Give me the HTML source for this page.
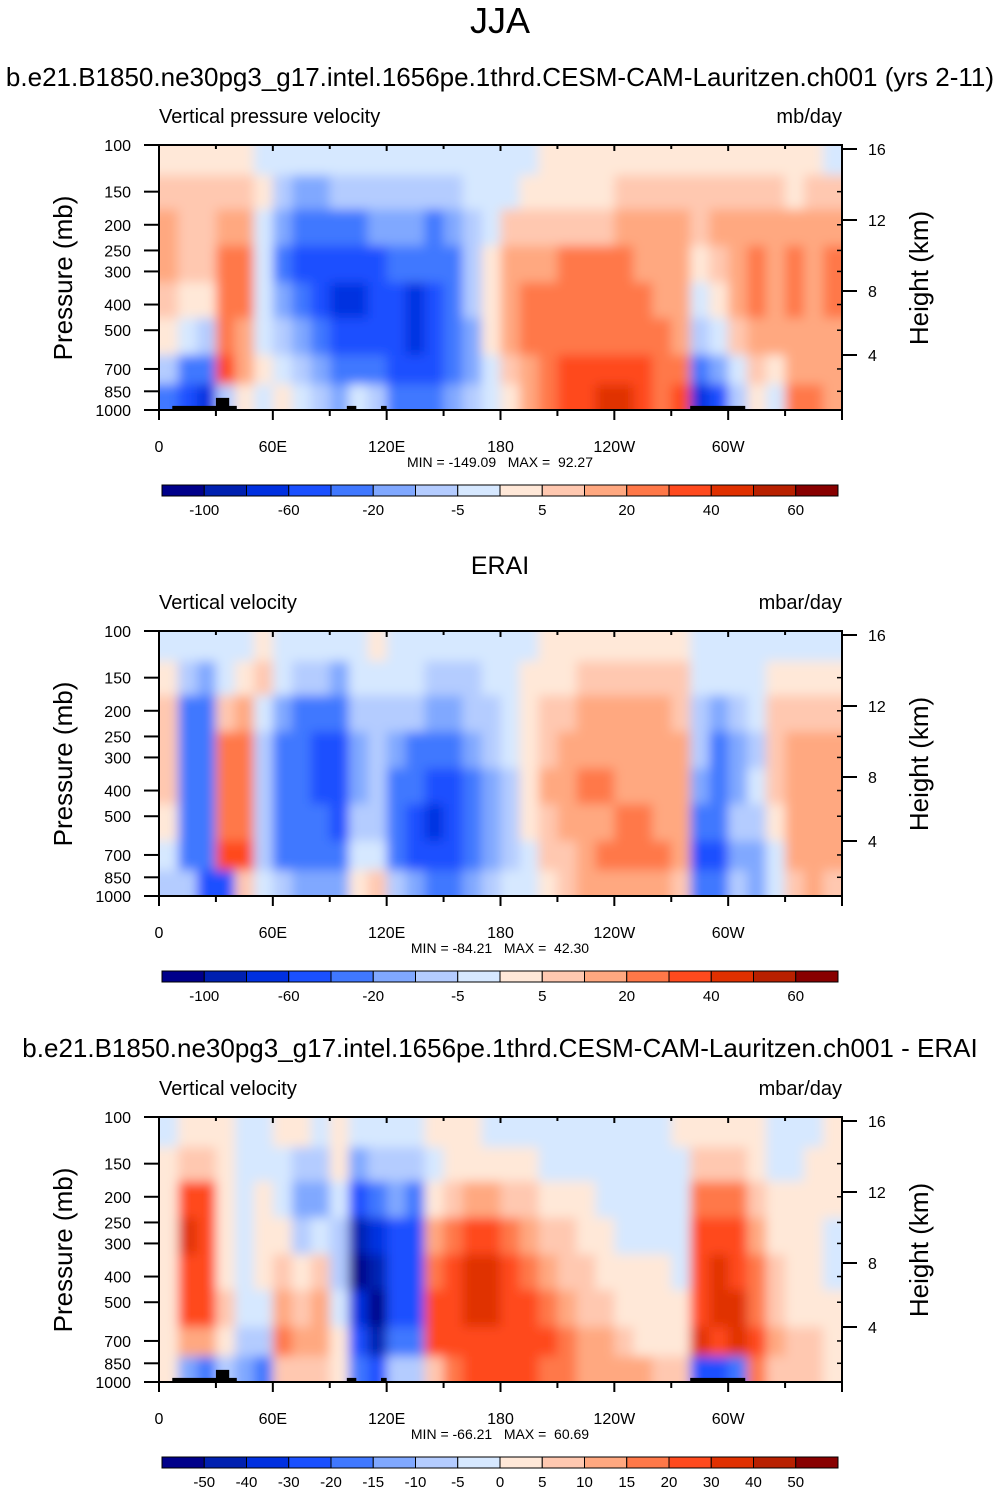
<!DOCTYPE html>
<html><head><meta charset="utf-8">
<style>
body{margin:0;background:#fff;}
svg text{font-family:"Liberation Sans",Helvetica,Arial,sans-serif;fill:#000;white-space:pre;}
</style></head>
<body>
<svg id="chart" width="1001" height="1492" viewBox="0 0 1001 1492" xmlns="http://www.w3.org/2000/svg">
<defs>
<filter id="soft" x="-5%" y="-5%" width="110%" height="110%"><feGaussianBlur stdDeviation="5.5"/></filter>
</defs>
<text x="500" y="33" text-anchor="middle" font-size="36">JJA</text>
</svg>
<script>
// ---- data ----
const lonCenters = [5,15,25,35,45,55,65,75,85,95,105,115,125,135,145,155,165,175,185,195,205,215,225,235,245,255,265,275,285,295,305,315,325,335,345,355];
const presEdges = [100,130,175,240,330,450,620,800,1000];
const colors = ["#00008a","#0020b0","#0030e0","#1a50ff","#4078ff","#80a8ff","#b4ccff","#d6e8ff","#ffe8d8","#ffc8b0","#ffa880","#ff7848","#ff4a1e","#e03000","#b82000","#880000"];
const levelsAB = [-100,-80,-60,-40,-20,-10,-5,0,5,10,20,30,40,50,60];
const labelsAB = ["-100","-60","-20","-5","5","20","40","60"];
const levelsC = [-50,-40,-30,-20,-15,-10,-5,0,5,10,15,20,30,40,50];
const labelsC = ["-50","-40","-30","-20","-15","-10","-5","0","5","10","15","20","30","40","50"];
const xTickLabels = ["0","60E","120E","180","120W","60W"];
const pTicks = [100,150,200,250,300,400,500,700,850,1000];
const zTicks = [16,12,8,4];
const zTickOffsets = [4,75,146,210];

const modelRows = [
[2,2,2,2,2,-2,-2,-2,-2,-2,-2,-2,-2,-2,-2,-2,-2,-2,-2,-2,2,2,2,2,2,2,2,2,2,2,2,2,2,2,2,-2],
[7,7,7,7,7,2,-7,-15,-15,-7,-7,-7,-7,-7,-7,-7,-2,-2,-2,2,2,2,2,2,7,7,7,7,7,7,7,7,7,2,7,7],
[15,7,7,15,15,-2,-15,-30,-30,-30,-30,-15,-15,-15,-30,-15,-7,-2,7,7,7,7,7,7,15,15,15,15,7,15,15,15,15,15,15,15],
[15,7,7,25,25,-2,-30,-50,-50,-50,-50,-50,-30,-30,-30,-30,-7,2,15,15,15,25,25,25,25,15,15,15,2,7,15,25,15,25,15,25],
[7,2,2,25,25,-2,-15,-30,-50,-70,-70,-50,-50,-70,-50,-30,-7,2,15,25,25,25,25,25,25,25,15,15,-2,2,15,25,15,25,15,25],
[2,-2,-7,25,15,-2,-7,-15,-30,-50,-50,-50,-50,-70,-50,-30,-15,2,15,25,25,25,25,25,25,25,25,15,-7,-2,7,15,15,15,15,15],
[-7,-30,-30,35,15,2,-2,-7,-15,-30,-30,-30,-50,-50,-50,-30,-15,-2,7,15,25,35,35,35,35,35,25,25,-30,-15,-2,7,2,15,15,15],
[-30,-50,-70,-7,2,-2,2,-2,-7,-15,-2,-7,-30,-30,-30,-15,-7,-2,2,15,25,35,35,45,45,35,25,35,-70,-50,-7,2,-2,25,25,15]
];
const eraiRows = [
[-2,-2,-2,-2,-2,2,-2,-2,-2,-2,-2,2,-2,-2,-2,-2,-2,-2,-2,-2,2,2,2,2,2,2,2,2,-2,-2,-2,-2,-2,-2,-2,-2],
[2,-7,-15,-2,2,7,-2,-7,-7,-15,-2,-2,-2,-2,-7,-7,-7,-2,-2,2,2,2,7,7,7,7,7,7,-2,-2,-2,-2,2,2,2,2],
[7,-30,-30,7,15,-2,-15,-30,-30,-30,-7,-7,-7,-7,-15,-15,-7,-7,-2,2,7,7,15,15,15,15,15,7,-7,-15,-7,-2,7,7,7,7],
[7,-30,-30,25,25,-7,-30,-30,-50,-50,-15,-7,-15,-30,-30,-30,-15,-7,-2,2,7,15,15,15,15,15,15,15,-7,-30,-15,-7,7,15,15,15],
[7,-30,-30,25,25,-7,-30,-30,-50,-50,-15,-7,-30,-30,-50,-50,-30,-15,-7,2,15,15,25,25,15,15,15,15,-15,-30,-15,-2,7,15,15,15],
[2,-30,-30,25,25,-7,-30,-30,-30,-50,-7,-7,-30,-50,-70,-50,-30,-15,-7,2,7,15,15,15,25,25,15,15,-30,-30,-7,-7,2,15,15,15],
[-2,-30,-30,35,35,-7,-30,-30,-30,-30,-2,-2,-30,-50,-50,-50,-30,-15,-7,-2,7,7,15,25,25,25,25,15,-50,-50,-15,-15,-2,15,15,15],
[-7,-7,-50,-50,7,-2,-7,-15,-15,-15,2,7,-7,-15,-30,-30,-15,-7,-2,-2,2,7,15,15,15,15,15,7,-30,-30,-7,-15,-2,7,15,7]
];
const diffRows = [
[-2,2,2,2,-2,-2,2,2,-2,2,-2,-2,-2,-2,2,2,2,-2,-2,-2,-2,-2,-2,-2,-2,-2,-2,2,2,2,2,2,-2,-2,-2,2],
[2,7,7,2,-2,-2,-2,-7,-7,2,-12,-7,-7,-7,-2,2,2,2,2,2,-2,-2,-2,-2,-2,-2,-2,-2,7,7,7,2,-2,-2,2,2],
[2,25,25,2,-2,2,-2,-12,-12,-2,-25,-17,-12,-17,2,7,12,12,7,7,2,2,2,-2,-2,-2,-2,-2,17,17,17,7,2,2,2,2],
[2,35,25,2,-2,2,2,-7,-2,-7,-45,-35,-25,-25,12,17,25,25,17,12,7,7,2,2,-2,-2,-2,-2,25,25,25,12,2,2,2,-2],
[2,25,25,2,-2,2,7,2,7,-7,-55,-45,-25,-25,17,25,35,35,25,17,12,7,7,2,2,2,2,-2,25,35,25,17,7,2,2,-2],
[2,25,25,7,-2,-2,12,7,12,-2,-35,-55,-25,-25,25,25,35,35,25,25,17,12,7,7,2,2,2,2,25,35,35,17,7,2,2,2],
[2,12,12,2,-7,-7,17,12,12,2,-25,-45,-17,-17,25,25,25,25,25,25,25,17,12,12,7,2,2,2,35,25,35,25,12,7,7,2],
[2,-12,-17,-7,-12,-17,7,7,7,2,-17,-25,-7,-7,7,17,25,25,25,25,17,17,12,12,12,12,7,7,-25,-25,-17,17,7,7,7,2]
];
// land (topography) blocks: [lonStart, lonEnd, topPressure]
const landLon0 = [7,30,99,117,280];
const landLon1 = [41,37,104,120,309];
const landTop = [965,900,965,965,965];

// ---- drawing ----
const NS = "http://www.w3.org/2000/svg";
const svg = document.getElementById('chart');
const PX0 = 159, PW = 683, PH = 265;
function xOf(lon){ return PX0 + lon/360*PW; }
function yOf(p, top){ return top + (Math.log10(p)-2)*PH; }
function mk(tag, attrs, parent){
  const e = document.createElementNS(NS, tag);
  for (const k in attrs) e.setAttribute(k, attrs[k]);
  (parent||svg).appendChild(e); return e;
}
function txt(x,y,s,size,anchor,parent){
  const t = mk('text',{x:x,y:y,'font-size':size,'text-anchor':anchor||'start'},parent);
  t.textContent = s; return t;
}
function classOf(v, levels){ let c=0; while(c<levels.length && v>=levels[c]) c++; return c; }

function drawPanel(key, top, rows, levels, labels, leftTitle, rightTitle, minmax, hasLand){
  const g = mk('g',{});
  
  
  const clipId = 'clip-'+key;
  const cp = mk('clipPath',{id:clipId}, svg.querySelector('defs'));
  mk('rect',{x:PX0,y:top,width:PW,height:PH},cp);
  const outer = mk('g',{'clip-path':'url(#'+clipId+')'},g);
  
  
  const inner = mk('g',{filter:'url(#soft)'},outer);
  const dLon = 10;
  rows.forEach((row, r)=>{
    let y0 = yOf(presEdges[r], top), y1 = yOf(presEdges[r+1], top);
    if (r===0) y0 -= 16; if (r===rows.length-1) y1 += 16;
    row.forEach((v, i)=>{
      let x0 = xOf(lonCenters[i]-dLon/2), x1 = xOf(lonCenters[i]+dLon/2);
      if (i===0) x0 -= 16; if (i===row.length-1) x1 += 16;
      const c = mk('rect',{x:x0,y:y0,width:x1-x0+0.6,height:y1-y0+0.6,fill:colors[classOf(v,levels)]},inner);
      
      
    });
  });
  if (hasLand){
    landLon0.forEach((l0,k)=>{
      const y0 = yOf(landTop[k], top);
      const lr = mk('rect',{x:xOf(l0),y:y0,width:xOf(landLon1[k])-xOf(l0),height:top+PH-y0,fill:'#000'},g);
      
      
    });
  }
  const fr = mk('rect',{x:PX0,y:top,width:PW,height:PH,fill:'none',stroke:'#000','stroke-width':2},g);
  
  
  for (let lon=0; lon<=360; lon+=30){
    const x = xOf(lon);
    mk('line',{x1:x,y1:top+PH,x2:x,y2:top+PH+(lon%60===0?10:6),stroke:'#000','stroke-width':2},g);
    mk('line',{x1:x,y1:top,x2:x,y2:top+(lon%60===0?6:4),stroke:'#000','stroke-width':2},g);
  }
  xTickLabels.forEach((s,k)=>{
    const t = txt(xOf(k*60), top+PH+42, s, 16, 'middle', g);
    
    
  });
  pTicks.forEach(p=>{
    const y = yOf(p, top);
    mk('line',{x1:PX0-15,y1:y,x2:PX0,y2:y,stroke:'#000','stroke-width':2},g);
    mk('line',{x1:PX0+PW,y1:y,x2:PX0+PW-5,y2:y,stroke:'#000','stroke-width':1.5},g);
    const t = txt(131, y+6, String(p), 16, 'end', g);
    
    
  });
  zTicks.forEach((z,k)=>{
    const y = top + zTickOffsets[k];
    mk('line',{x1:PX0+PW,y1:y,x2:PX0+PW+15,y2:y,stroke:'#000','stroke-width':2},g);
    const t = txt(868, y+6, String(z), 16, 'start', g);
    
    
  });
  const yt = txt(0,0,'Pressure (mb)',26,'middle',g);
  yt.setAttribute('transform','translate(72,'+(top+133)+') rotate(-90)');
  
  
  const ht = txt(0,0,'Height (km)',26,'middle',g);
  ht.setAttribute('transform','translate(928,'+(top+133)+') rotate(-90)');
  
  
  const lt = txt(159, top-22, leftTitle, 20, 'start', g);
  
  
  const rt = txt(842, top-22, rightTitle, 20, 'end', g);
  
  
  const mm = txt(500, top+PH+57, minmax, 14, 'middle', g);
  
  
  const cbY = top+340, cbX = 162, cbW = 676, bw = cbW/16;
  const cb = mk('g',{},g);
  
  
  colors.forEach((c,k)=>{
    const b = mk('rect',{x:cbX+k*bw,y:cbY,width:bw,height:11,fill:c,stroke:'#000','stroke-width':1},cb);
    
    
  });
  const step = labels.length===8 ? 2 : 1;
  labels.forEach((s,k)=>{
    const t = txt(cbX+(1+k*step)*bw, cbY+30, s, 15, 'middle', cb);
    
    
  });
}

let t1 = txt(500, 86, 'b.e21.B1850.ne30pg3_g17.intel.1656pe.1thrd.CESM-CAM-Lauritzen.ch001 (yrs 2-11)', 26, 'middle');


let t2 = txt(500, 574, 'ERAI', 25, 'middle');


let t3 = txt(500, 1057, 'b.e21.B1850.ne30pg3_g17.intel.1656pe.1thrd.CESM-CAM-Lauritzen.ch001 - ERAI', 26, 'middle');



drawPanel('model', 145, modelRows, levelsAB, labelsAB, 'Vertical pressure velocity', 'mb/day', 'MIN = -149.09   MAX =  92.27', true);
drawPanel('erai', 631, eraiRows, levelsAB, labelsAB, 'Vertical velocity', 'mbar/day', 'MIN = -84.21   MAX =  42.30', false);
drawPanel('diff', 1117, diffRows, levelsC, labelsC, 'Vertical velocity', 'mbar/day', 'MIN = -66.21   MAX =  60.69', true);
</script>
</body></html>
